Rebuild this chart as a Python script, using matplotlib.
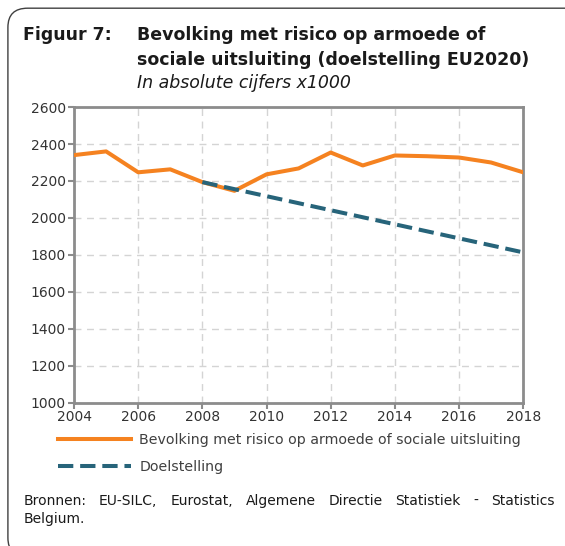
import matplotlib.pyplot as plt
from matplotlib.patches import FancyBboxPatch

# data, in thousands
years = list(range(2004, 2019))
armoede = [2340, 2360, 2247, 2263, 2194, 2147, 2236, 2268, 2354, 2284,
           2338, 2334, 2327, 2300, 2247]
doel_years = list(range(2008, 2019))
doelstelling = [2194, 2156, 2118, 2080, 2042, 2004, 1966, 1928, 1890, 1852, 1814]

x_ticks = list(range(2004, 2019, 2))
y_ticks = list(range(1000, 2601, 200))

bron = 'Bronnen: EU-SILC, Eurostat, Algemene Directie Statistiek - Statistics'

plt.rcParams['font.family'] = ['DejaVu Sans']

fig = plt.figure(figsize=(5.65, 5.46), dpi=100)

# rounded frame, runs off the right and bottom edge like the original
frame = FancyBboxPatch((0.014, -0.02), 1.1, 1.005, boxstyle='round,pad=0,rounding_size=0.035',
                       transform=fig.transFigure, facecolor='none', edgecolor='#404040', linewidth=1.0)
fig.patches.append(frame)

title_kw = dict(fontsize=12.5, color='#1a1a1a', va='baseline')
fig.text(0.041, 0.926, 'Figuur 7:', fontweight='bold', **title_kw)
fig.text(0.243, 0.926, 'Bevolking met risico op armoede of', fontweight='bold', **title_kw)
fig.text(0.243, 0.881, 'sociale uitsluiting (doelstelling EU2020)', fontweight='bold', **title_kw)
fig.text(0.243, 0.839, 'In absolute cijfers x1000', style='italic', **title_kw)

ax = fig.add_axes([0.131, 0.262, 0.795, 0.542])
ax.plot(years, armoede, color='#f58220', linewidth=2.9, solid_joinstyle='round',
        label='Bevolking met risico op armoede of sociale uitsluiting', zorder=3)
ax.plot(doel_years, doelstelling, color='#27647a', linewidth=2.9, dashes=(3.8, 1.7),
        label='Doelstelling', zorder=4)

ax.set_xlim(2004, 2018)
ax.set_ylim(1000, 2600)
ax.set_xticks(x_ticks)
ax.set_yticks(y_ticks)
ax.grid(True, color='#d4d4d4', linestyle=(0, (5, 4)), linewidth=1.0)
ax.set_axisbelow(True)
for s in ax.spines.values():
    s.set_color('#8c8c8c')
    s.set_linewidth(2)
ax.tick_params(axis='both', colors='#8c8c8c', labelcolor='#333333', labelsize=10, length=4, width=1.5)
ax.tick_params(axis='y', pad=2)
ax.tick_params(axis='x', pad=1)

ax.legend(loc='upper left', bbox_to_anchor=(-0.063, -0.06), frameon=False, fontsize=10.2,
          handlelength=5.1, handletextpad=0.6, labelspacing=0.9, labelcolor='#404040')

# justified source line
fig.canvas.draw()
rend = fig.canvas.get_renderer()
x_left, x_right = 0.041, 0.982
words = bron.split()
items = [fig.text(0, 0.0745, w, fontsize=10, color='#1a1a1a', va='baseline') for w in words]
widths = [t.get_window_extent(rend).width / fig.bbox.width for t in items]
gap = (x_right - x_left - sum(widths)) / (len(words) - 1)
x = x_left
for t, w in zip(items, widths):
    t.set_x(x)
    x += w + gap
fig.text(0.041, 0.042, 'Belgium.', fontsize=10, color='#1a1a1a', va='baseline')

fig.savefig('out.png', dpi=100)
